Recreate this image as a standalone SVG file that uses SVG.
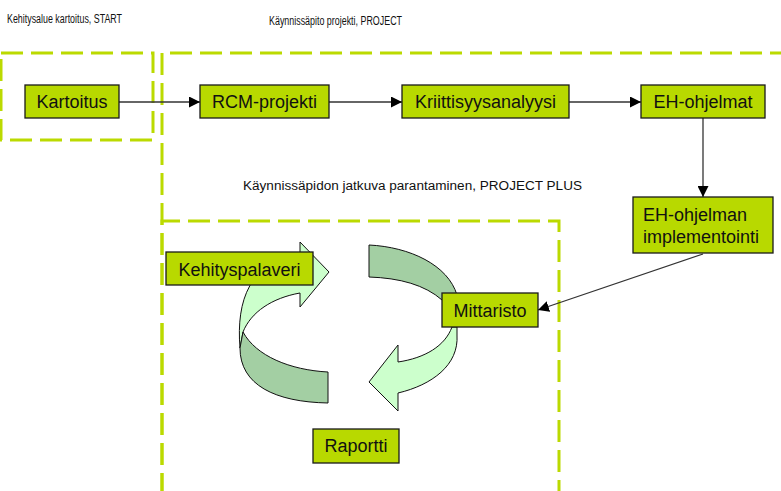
<svg xmlns="http://www.w3.org/2000/svg" width="781" height="491" viewBox="0 0 781 491">
  <style>
    .zone { fill: none; stroke: #BBDA00; stroke-width: 3; stroke-dasharray: 22 8; }
    .title { font-family: "Liberation Sans", Arial, sans-serif; font-size: 12px; fill: #111; }
    .box { fill: #B8D900; stroke: #1a1a1a; stroke-width: 1.3; }
    .label { font-family: "Liberation Sans", Arial, sans-serif; font-size: 18px; fill: #111; }
    .link { fill: none; stroke: #333; stroke-width: 1.3; }
    .cyc-light { fill: #CCFFCC; stroke: #111; stroke-width: 1; stroke-linejoin: round; }
    .cyc-dark { fill: #A3CFA3; stroke: #111; stroke-width: 1; stroke-linejoin: round; }
  </style>
  <defs>
    <marker id="tip" markerUnits="userSpaceOnUse" markerWidth="11" markerHeight="11" refX="11" refY="5.5" orient="auto">
      <path d="M0,0 L11,5.5 L0,11 Z" fill="#000"/>
    </marker>
  </defs>
  <rect width="781" height="491" fill="#fff"/>

  <!-- phase zones -->
  <g id="zones">
    <rect class="zone" x="1" y="53" width="152" height="87"/>
    <path class="zone" d="M162,495 L162,53 L790,53"/>
    <path class="zone" d="M162,495 L162,221 L559,221 L559,495"/>
    <text class="title" x="7" y="23" textLength="115" lengthAdjust="spacingAndGlyphs">Kehitysalue kartoitus, START</text>
    <text class="title" x="269" y="25" textLength="133" lengthAdjust="spacingAndGlyphs">Käynnissäpito projekti, PROJECT</text>
    <text class="title" x="243" y="190" textLength="339" lengthAdjust="spacingAndGlyphs">Käynnissäpidon jatkuva parantaminen, PROJECT PLUS</text>
  </g>

  <!-- improvement cycle ribbons -->
  <g id="cycle">
    <path class="cyc-light" d="M300,253 L300,242 L329,272 L300,307 L300,293 C272,298 251,312 243,332 L240,348 C236,300 250,262 300,253 Z"/>
    <path class="cyc-dark" d="M243,332 C256,356 290,370 328,372 L328,403 C275,402 240,385 240,348 Z"/>
    <path class="cyc-dark" d="M369,245 C410,247 448,265 457,295 L442,300 C425,285 400,278 369,277 Z"/>
    <path class="cyc-light" d="M452,327 C445,346 425,358 398,362 L398,345 L369,382 L398,411 L398,393 C432,385 459,365 457,335 L457,327 Z"/>
  </g>

  <!-- connectors -->
  <g id="connectors">
    <line class="link" x1="119" y1="102" x2="200" y2="102" marker-end="url(#tip)"/>
    <line class="link" x1="329" y1="102" x2="402" y2="102" marker-end="url(#tip)"/>
    <line class="link" x1="569" y1="102" x2="641" y2="102" marker-end="url(#tip)"/>
    <line class="link" x1="703" y1="118" x2="703" y2="197" marker-end="url(#tip)"/>
    <line class="link" x1="703" y1="254" x2="538" y2="310" marker-end="url(#tip)"/>
  </g>

  <g id="kartoitus">
    <rect class="box" x="25" y="85" width="94" height="33"/>
    <text class="label" x="72" y="108" text-anchor="middle">Kartoitus</text>
  </g>
  <g id="rcm-projekti">
    <rect class="box" x="200" y="85" width="129" height="33"/>
    <text class="label" x="264.5" y="108" text-anchor="middle">RCM-projekti</text>
  </g>
  <g id="kriittisyysanalyysi">
    <rect class="box" x="402" y="85" width="167" height="33"/>
    <text class="label" x="485.5" y="108" text-anchor="middle">Kriittisyysanalyysi</text>
  </g>
  <g id="eh-ohjelmat">
    <rect class="box" x="641" y="85" width="124" height="33"/>
    <text class="label" x="703" y="108" text-anchor="middle">EH-ohjelmat</text>
  </g>
  <g id="eh-implementointi">
    <rect class="box" x="633" y="197" width="140" height="56"/>
    <text class="label" x="643" y="221">EH-ohjelman</text>
    <text class="label" x="643" y="243">implementointi</text>
  </g>
  <g id="kehityspalaveri">
    <rect class="box" x="166" y="252" width="147" height="33"/>
    <text class="label" x="239.5" y="276" text-anchor="middle">Kehityspalaveri</text>
  </g>
  <g id="mittaristo">
    <rect class="box" x="442" y="293" width="96" height="34"/>
    <text class="label" x="490" y="317" text-anchor="middle">Mittaristo</text>
  </g>
  <g id="raportti">
    <rect class="box" x="313" y="429" width="86" height="34"/>
    <text class="label" x="356" y="452" text-anchor="middle">Raportti</text>
  </g>
</svg>
